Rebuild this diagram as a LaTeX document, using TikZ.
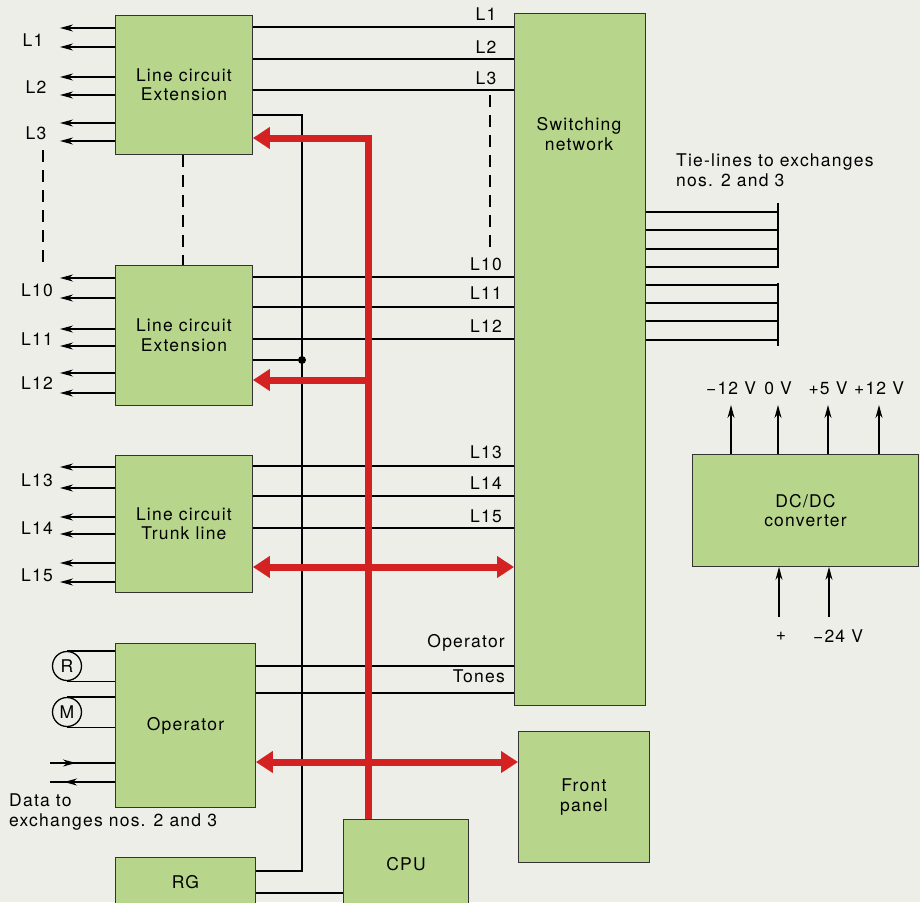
\documentclass[tikz,border=0pt]{standalone}
\usepackage{fontspec}
\setmainfont{TeX Gyre Heros}[LetterSpace=7]
\usetikzlibrary{arrows.meta,calc}
\definecolor{bgc}{HTML}{EEEEE9}
\definecolor{boxg}{HTML}{B7D68C}
\definecolor{busred}{HTML}{D42222}
\tikzset{
  blk/.style={draw=black!80, line width=0.9pt, fill=boxg, anchor=north west, align=center, inner sep=0pt},
  wire/.style={draw=black, line width=1.3pt},
  warr/.style={wire, -{Stealth[length=13pt,width=7pt]}},
  bus/.style={draw=busred, line width=7pt, line join=miter},
  busarr/.style={bus, -{Triangle[length=17pt,width=21pt]}},
  busdbl/.style={bus, {Triangle[length=17pt,width=21pt]}-{Triangle[length=17pt,width=21pt]}},
  lab/.style={inner sep=0pt},
  dsh/.style={draw=black, line width=1.1pt, dash pattern=on 12pt off 8pt},
  rnd/.style={draw=black, line width=1.3pt, circle, minimum size=29pt, inner sep=0pt, fill=bgc}
}
\begin{document}
\begin{tikzpicture}[x=1pt,y=-1pt,font=\fontsize{17.5}{19.5}\selectfont]
\fill[bgc] (0,0) rectangle (920,902);
\useasboundingbox (0,0) rectangle (920,902);

% boxes
\node[blk, minimum width=137pt, minimum height=139pt] (b1) at (115,15) {Line circuit\\Extension};
\node[blk, minimum width=137pt, minimum height=140pt] (b2) at (115,265) {Line circuit\\Extension};
\node[blk, minimum width=137pt, minimum height=137pt] (b3) at (115,455) {Line circuit\\Trunk line};
\node[blk, minimum width=140pt, minimum height=164pt] (op) at (115,643) {Operator};
\node[blk, minimum width=140pt, minimum height=50pt] (rg) at (115,857) {RG};
\node[blk, minimum width=125pt, minimum height=90pt] (cpu) at (343,819) {CPU};
\node[blk, minimum width=131pt, minimum height=692pt] (sw) at (514,13) {};
\node[lab, align=center] (swt) at (579,134) {Switching\\network};
\node[blk, minimum width=131pt, minimum height=131pt] (fp) at (518,731) {Front\\panel};
\node[blk, minimum width=226pt, minimum height=112pt] (dc) at (692,454) {DC/DC\\converter};

% left wires with arrows
\foreach \ya/\yb in {28/47,77/95,123/141}{
  \draw[warr] (b1.west |- 0,\ya) -- (60,\ya);
  \draw[warr] (b1.west |- 0,\yb) -- (60,\yb);
}
\foreach \ya/\yb in {278/298,329/346,373/393}{
  \draw[warr] (b2.west |- 0,\ya) -- (60,\ya);
  \draw[warr] (b2.west |- 0,\yb) -- (60,\yb);
}
\foreach \ya/\yb in {467/488,517/534,563/582}{
  \draw[warr] (b3.west |- 0,\ya) -- (60,\ya);
  \draw[warr] (b3.west |- 0,\yb) -- (60,\yb);
}
\node[lab] (l1) at (33,40) {L1};
\node[lab] (l2) at (36,87) {L2};
\node[lab] (l3) at (36,133) {L3};
\node[lab] (l10) at (37,290) {L10};
\node[lab] (l11) at (37,339) {L11};
\node[lab] (l12) at (37,383) {L12};
\node[lab] (l13) at (37,480) {L13};
\node[lab] (l14) at (37,528) {L14};
\node[lab] (l15) at (37,575) {L15};

% dashed continuation lines
\draw[dsh] (43,150) -- (43,263);
\draw[dsh] (b1.south -| 183,0) -- (b2.north -| 183,0);
\draw[dsh] (490,95) -- (490,252);

% lines to switching network
\foreach \y/\t/\ty in {27/L1/14,59/L2/47,90/L3/78}{
  \draw[wire] (b1.east |- 0,\y) -- (sw.west |- 0,\y);
  \node[lab] at (486,\ty) {\t};
}
\foreach \y/\t/\ty in {277/L10/264,307/L11/293,339/L12/326}{
  \draw[wire] (b2.east |- 0,\y) -- (sw.west |- 0,\y);
  \node[lab] at (486,\ty) {\t};
}
\foreach \y/\t/\ty in {466/L13/452,496/L14/483,528/L15/516}{
  \draw[wire] (b3.east |- 0,\y) -- (sw.west |- 0,\y);
  \node[lab] at (486,\ty) {\t};
}
\draw[wire] (op.east |- 0,666) -- (sw.west |- 0,666);
\draw[wire] (op.east |- 0,693) -- (sw.west |- 0,693);
\node[lab, anchor=east] (opt) at (505,643) {Operator};
\node[lab, anchor=east] (tnt) at (505,676) {Tones};

% control line from extensions to RG
\coordinate (cj) at (302,360);
\draw[wire] (b1.east |- 0,115) -- (302,115) -- (302,871) -- (rg.east |- 0,871);
\draw[wire] (b2.east |- cj) -- (cj);
\fill (cj) circle (4pt);
\draw[wire] (rg.east |- 0,893) -- (cpu.west |- 0,893);

% red bus
\draw[busarr] (cpu.north -| 368,0) -- (368,138) -- (b1.east |- 0,138);
\draw[busarr] (368,380) -- (b2.east |- 0,380);
\draw[busdbl] (b3.east |- 0,567) -- (sw.west |- 0,567);
\draw[busdbl] (op.east |- 0,762) -- (fp.west |- 0,762);

% R and M
\node[rnd] (r) at (67,666) {R};
\node[rnd] (m) at (67,712) {M};
\draw[wire] (r.north) -- (op.west |- r.north);
\draw[wire] (r.south) -- (op.west |- r.south);
\draw[wire] (m.north) -- (op.west |- m.north);
\draw[wire] (m.south) -- (op.west |- m.south);

% data lines
\draw[warr] (50,763) -- (76,763);
\draw[wire] (72,763) -- (op.west |- 0,763);
\draw[warr] (op.west |- 0,782) -- (64,782);
\draw[wire] (68,782) -- (50,782);
\node[lab, anchor=west, align=left] (dtx) at (9,812) {Data to\\exchanges nos. 2 and 3};

% tie-lines
\foreach \y in {212,230,249,267,285,303,321,340}{
  \draw[wire] (sw.east |- 0,\y) -- (778,\y);
}
\draw[wire] (778,203) -- (778,268);
\draw[wire] (778,283) -- (778,346);
\node[lab, anchor=west, align=left] (tie) at (676,170) {Tie-lines to exchanges\\nos. 2 and 3};

% DC/DC
\foreach \x/\t in {731/{−12 V},778/{0 V},828/{+5 V},879/{+12 V}}{
  \draw[warr] (dc.north -| \x,0) -- (\x,405);
  \node[lab] at (\x,388) {\t};
}
\draw[warr] (779,617) -- (dc.south -| 779,0);
\draw[warr] (829,617) -- (dc.south -| 829,0);
\node[lab] (plus) at (781,636) {+};
\node[lab] (m24) at (838,636) {−24 V};
\end{tikzpicture}
\end{document}
